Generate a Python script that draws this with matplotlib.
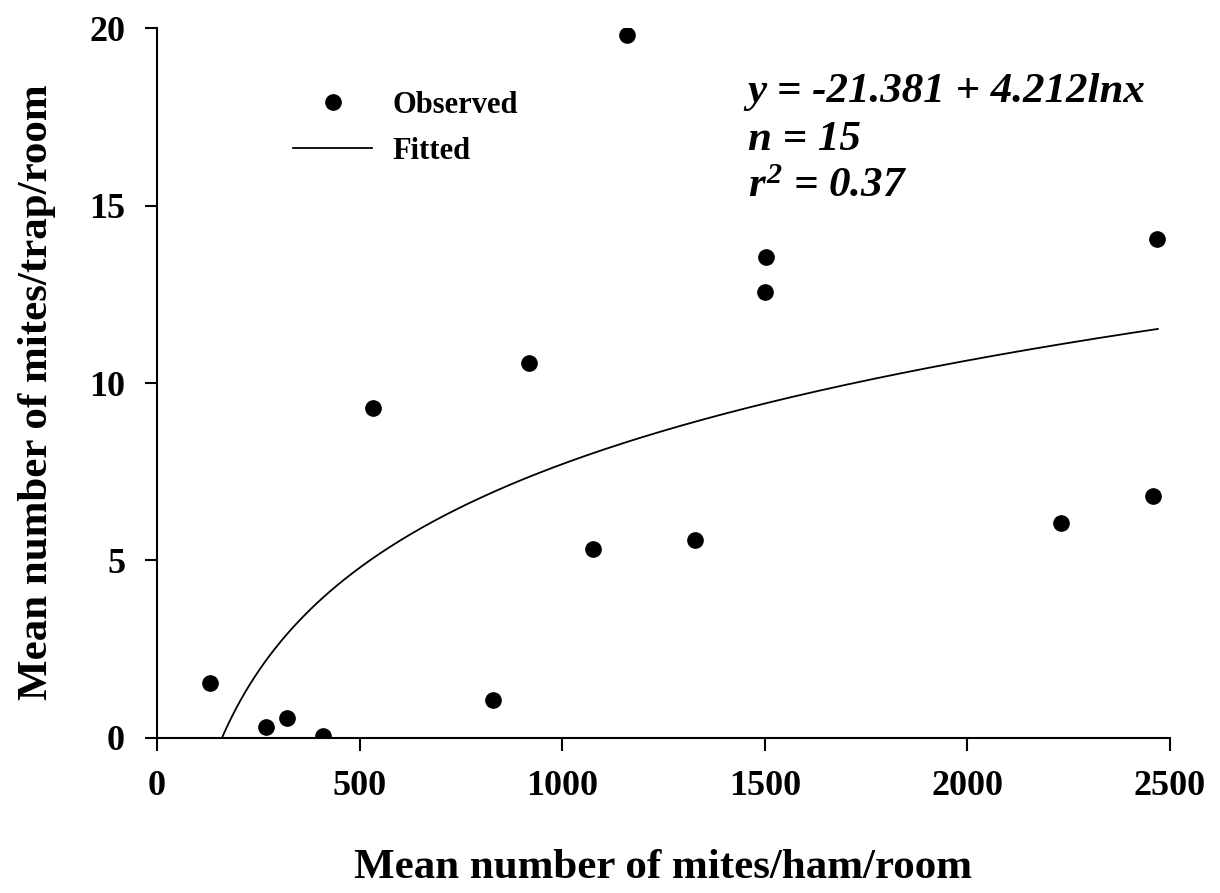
import matplotlib.pyplot as plt
import numpy as np

plt.rcParams['font.family'] = ['Liberation Serif', 'DejaVu Serif']
plt.rcParams['mathtext.fontset'] = 'custom'
plt.rcParams['mathtext.it'] = 'Liberation Serif:bold:italic'
plt.rcParams['mathtext.rm'] = 'Liberation Serif:bold:italic'

# observed points
ham = [131, 269, 321, 410, 533, 830, 919, 1077, 1160, 1328, 1501, 1504, 2232, 2457, 2469]
trap = [1.55, 0.31, 0.56, 0.06, 9.3, 1.07, 10.56, 5.32, 19.8, 5.58, 12.56, 13.55, 6.06, 6.82, 14.06]

# fitted model y = a + b ln x
a = -21.381
b = 4.212
x_fit = np.linspace(np.exp(-a / b), 2470, 400)
y_fit = a + b * np.log(x_fit)

fig = plt.figure(figsize=(12.2, 8.93), dpi=100)
ax = fig.add_axes([0.1287, 0.1736, 0.8303, 0.795])

ax.plot(ham, trap, 'o', color='black', markersize=11, label='Observed')
ax.plot(x_fit, y_fit, '-', color='black', linewidth=1.3, label='Fitted')

ax.set_xlim(0, 2500)
ax.set_ylim(0, 20)
ax.set_xticks([0, 500, 1000, 1500, 2000, 2500])
ax.set_yticks([0, 5, 10, 15, 20])
ax.spines['top'].set_visible(False)
ax.spines['right'].set_visible(False)
for s in ['left', 'bottom']:
    ax.spines[s].set_linewidth(1.5)
ax.tick_params(direction='out', length=9, width=1.5, labelsize=26, pad=14)
for lab in ax.get_xticklabels() + ax.get_yticklabels():
    lab.set_fontweight('bold')

ax.set_xlabel('Mean number of mites/ham/room', fontsize=31, fontweight='bold', labelpad=33)
ax.set_ylabel('Mean number of mites/trap/room', fontsize=31, fontweight='bold')
ax.yaxis.set_label_coords(-0.100, 0.487)

ax.legend(loc='upper left', bbox_to_anchor=(0.107, 0.95), frameon=False,
          prop={'size': 22, 'weight': 'bold'}, handlelength=2.6,
          handletextpad=0.65, labelspacing=0.55)

ax.text(0.583, 0.937, 'y = -21.381 + 4.212lnx\nn = 15\n$r^2$ = 0.37',
        transform=ax.transAxes, fontsize=31, fontweight='bold', fontstyle='italic',
        va='top', ha='left', linespacing=1.34)

fig.savefig('out.png', dpi=100)
